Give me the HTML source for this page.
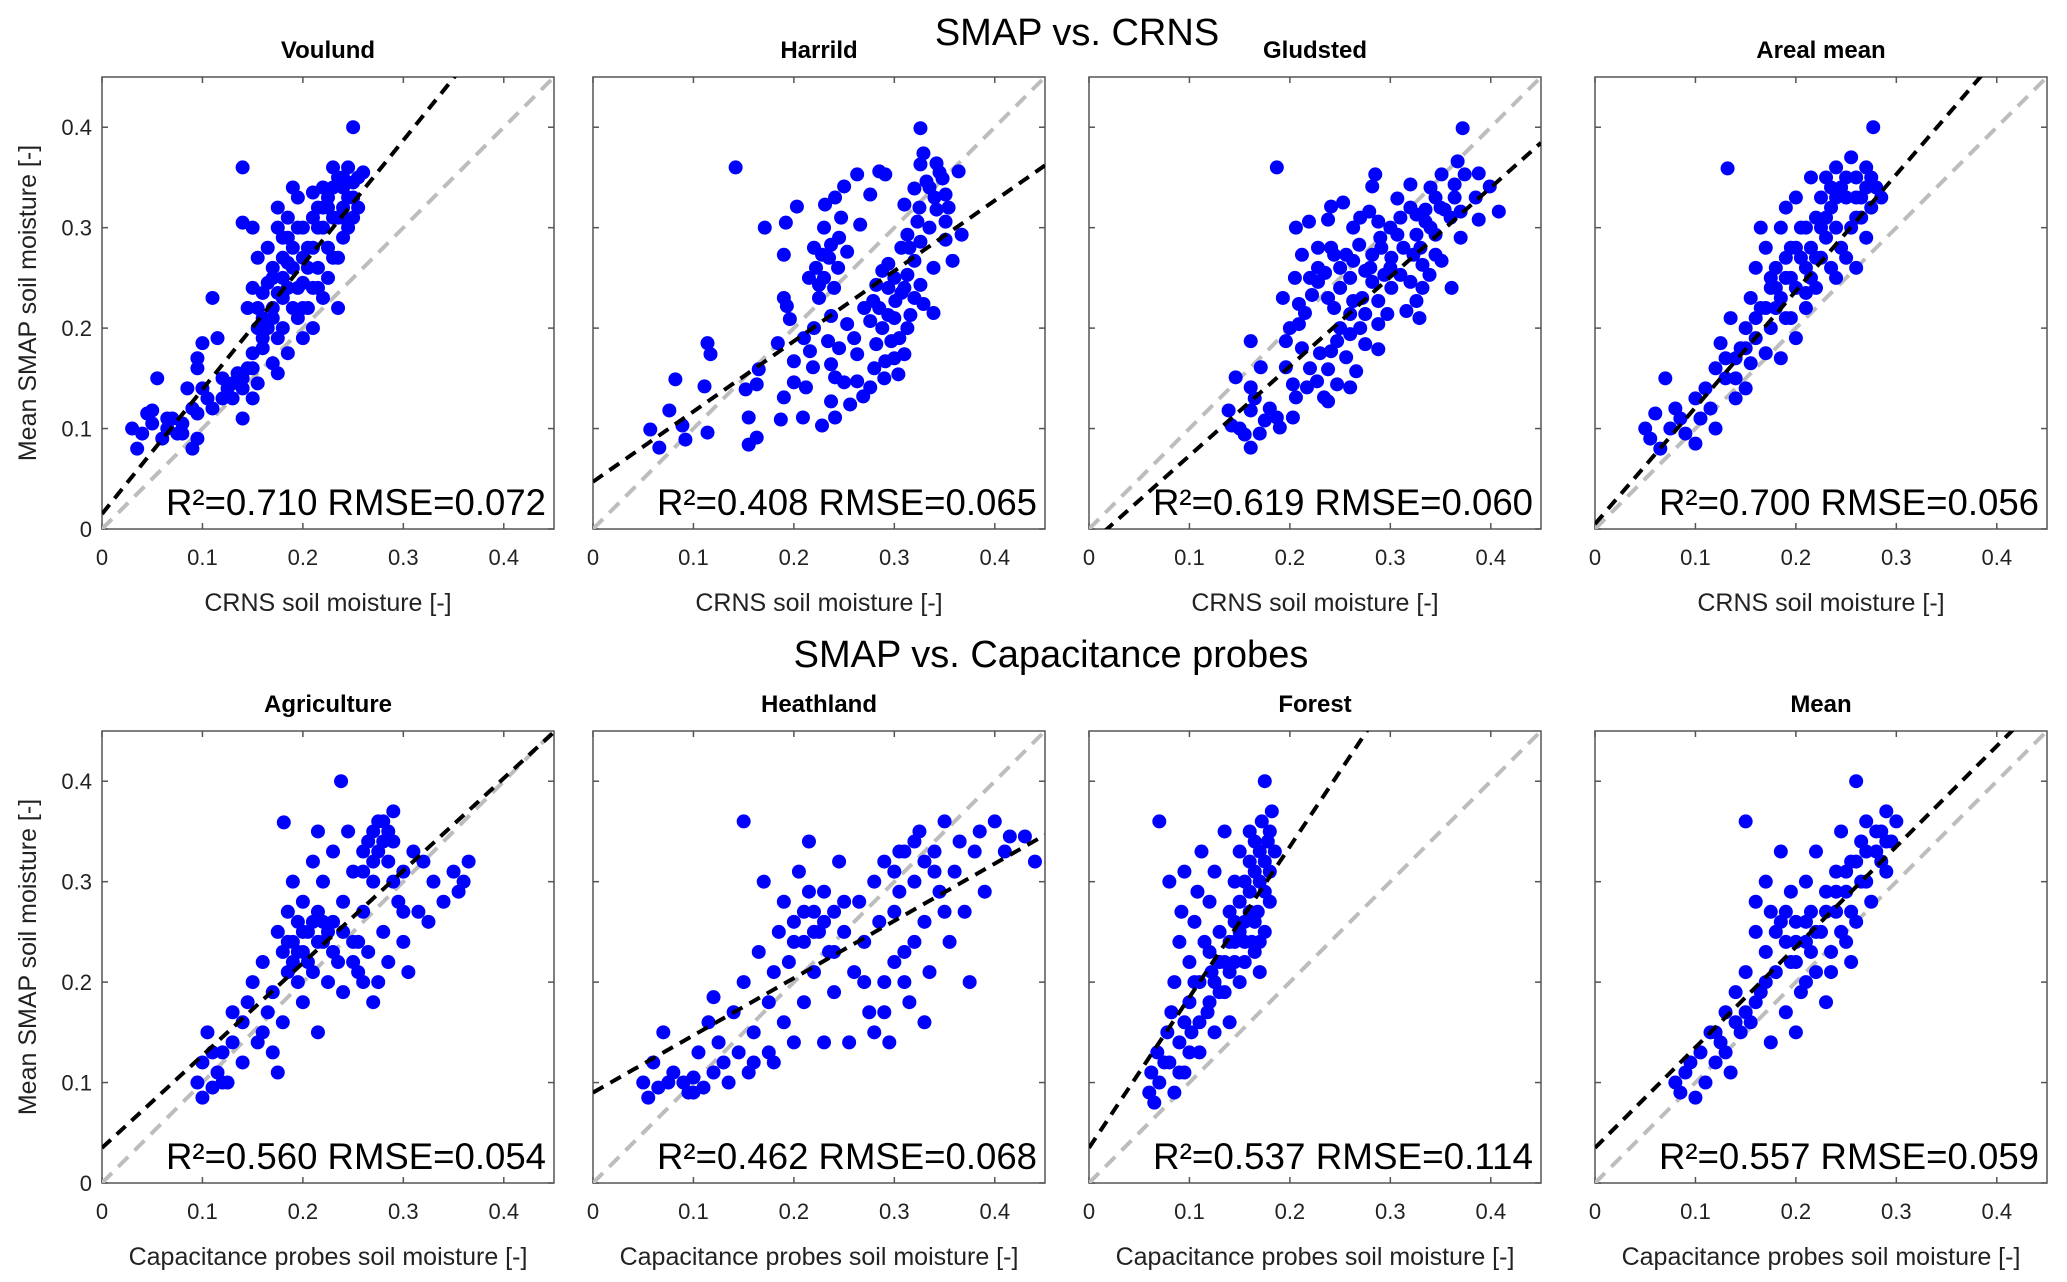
<!DOCTYPE html>
<html><head><meta charset="utf-8"><style>
body{margin:0;background:#fff}
svg{display:block;font-family:"Liberation Sans",sans-serif}
</style></head><body>
<svg id="fig" width="2067" height="1282" viewBox="0 0 2067 1282">
<text x="1077" y="45" font-size="38" text-anchor="middle">SMAP vs. CRNS</text>
<text x="1051" y="667" font-size="38" text-anchor="middle">SMAP vs. Capacitance probes</text>
</svg>
<script>
const panelTitles=["Voulund","Harrild","Gludsted","Areal mean","Agriculture","Heathland","Forest","Mean"];
const statLabels=["R²=0.710 RMSE=0.072","R²=0.408 RMSE=0.065","R²=0.619 RMSE=0.060","R²=0.700 RMSE=0.056","R²=0.560 RMSE=0.054","R²=0.462 RMSE=0.068","R²=0.537 RMSE=0.114","R²=0.557 RMSE=0.059"];
const xLabels=["CRNS soil moisture [-]","CRNS soil moisture [-]","CRNS soil moisture [-]","CRNS soil moisture [-]","Capacitance probes soil moisture [-]","Capacitance probes soil moisture [-]","Capacitance probes soil moisture [-]","Capacitance probes soil moisture [-]"];
const fitIntercepts=[0.015,0.047,-0.016,0.005,0.035,0.09,0.035,0.035];
const fitSlopes=[1.24,0.70,0.89,1.16,0.92,0.57,1.50,1.00];
const tickValues=[0,0.1,0.2,0.3,0.4];
const tickLabels=["0","0.1","0.2","0.3","0.4"];
const voulund=[[0.03,0.10],[0.035,0.08],[0.04,0.095],[0.045,0.115],[0.05,0.105],[0.055,0.15],[0.05,0.118],[0.06,0.09],[0.065,0.1],[0.07,0.11],[0.075,0.095],[0.08,0.105],[0.085,0.14],[0.09,0.12],[0.09,0.08],[0.095,0.09],[0.095,0.115],[0.1,0.14],[0.095,0.16],[0.095,0.17],[0.1,0.185],[0.105,0.13],[0.11,0.12],[0.115,0.19],[0.11,0.23],[0.12,0.15],[0.125,0.14],[0.13,0.13],[0.135,0.155],[0.14,0.11],[0.14,0.14],[0.145,0.16],[0.15,0.13],[0.14,0.36],[0.14,0.305],[0.15,0.3],[0.15,0.175],[0.155,0.2],[0.145,0.22],[0.15,0.24],[0.155,0.27],[0.16,0.21],[0.16,0.19],[0.165,0.28],[0.17,0.25],[0.17,0.22],[0.17,0.165],[0.175,0.155],[0.18,0.27],[0.175,0.3],[0.175,0.32],[0.18,0.2],[0.185,0.24],[0.185,0.29],[0.19,0.26],[0.19,0.22],[0.19,0.34],[0.185,0.31],[0.195,0.33],[0.195,0.21],[0.2,0.245],[0.2,0.19],[0.2,0.3],[0.205,0.28],[0.21,0.24],[0.21,0.2],[0.215,0.32],[0.215,0.26],[0.22,0.34],[0.22,0.3],[0.22,0.23],[0.225,0.33],[0.225,0.28],[0.23,0.36],[0.23,0.31],[0.23,0.27],[0.235,0.22],[0.235,0.35],[0.24,0.32],[0.24,0.29],[0.24,0.34],[0.245,0.36],[0.25,0.31],[0.25,0.33],[0.25,0.4],[0.255,0.35],[0.26,0.355],[0.225,0.25],[0.2,0.22],[0.16,0.235],[0.175,0.19],[0.185,0.175],[0.155,0.145],[0.21,0.31],[0.245,0.3],[0.255,0.32],[0.235,0.27],[0.17,0.26],[0.18,0.23],[0.165,0.2],[0.175,0.235],[0.185,0.265],[0.195,0.24],[0.205,0.26],[0.215,0.3],[0.225,0.32],[0.235,0.31],[0.245,0.33],[0.24,0.35],[0.23,0.34],[0.22,0.32],[0.21,0.28],[0.2,0.27],[0.19,0.28],[0.18,0.25],[0.17,0.21],[0.16,0.18],[0.15,0.16],[0.14,0.15],[0.13,0.145],[0.155,0.22],[0.165,0.245],[0.18,0.29],[0.195,0.3],[0.21,0.335],[0.24,0.31],[0.25,0.345],[0.205,0.22],[0.215,0.24],[0.065,0.11],[0.08,0.095],[0.12,0.13]];
const harrild=[[0.057,0.099],[0.066,0.081],[0.076,0.118],[0.089,0.103],[0.092,0.089],[0.082,0.149],[0.111,0.142],[0.114,0.185],[0.117,0.174],[0.114,0.096],[0.155,0.084],[0.163,0.091],[0.155,0.111],[0.152,0.139],[0.163,0.144],[0.165,0.159],[0.187,0.109],[0.19,0.131],[0.209,0.111],[0.228,0.103],[0.241,0.111],[0.142,0.36],[0.171,0.3],[0.192,0.305],[0.19,0.273],[0.203,0.321],[0.19,0.23],[0.193,0.222],[0.196,0.209],[0.184,0.185],[0.2,0.167],[0.2,0.146],[0.212,0.141],[0.219,0.161],[0.216,0.177],[0.222,0.26],[0.225,0.243],[0.228,0.273],[0.231,0.323],[0.241,0.33],[0.25,0.341],[0.263,0.353],[0.285,0.356],[0.291,0.353],[0.276,0.333],[0.266,0.303],[0.247,0.31],[0.237,0.283],[0.253,0.276],[0.244,0.26],[0.225,0.23],[0.237,0.212],[0.253,0.204],[0.234,0.187],[0.237,0.164],[0.241,0.151],[0.25,0.146],[0.263,0.147],[0.276,0.141],[0.269,0.132],[0.256,0.124],[0.237,0.127],[0.263,0.174],[0.282,0.184],[0.276,0.207],[0.279,0.227],[0.282,0.243],[0.288,0.257],[0.294,0.24],[0.301,0.227],[0.294,0.213],[0.288,0.2],[0.297,0.187],[0.291,0.167],[0.304,0.154],[0.31,0.174],[0.313,0.2],[0.316,0.213],[0.307,0.235],[0.313,0.253],[0.32,0.267],[0.326,0.243],[0.329,0.224],[0.339,0.215],[0.339,0.26],[0.358,0.267],[0.326,0.286],[0.313,0.293],[0.323,0.306],[0.31,0.323],[0.32,0.339],[0.332,0.346],[0.326,0.363],[0.342,0.364],[0.329,0.374],[0.326,0.399],[0.348,0.349],[0.351,0.333],[0.354,0.32],[0.351,0.306],[0.364,0.356],[0.367,0.293],[0.351,0.288],[0.342,0.318],[0.335,0.3],[0.307,0.28],[0.294,0.264],[0.23,0.25],[0.235,0.27],[0.24,0.24],[0.245,0.29],[0.23,0.3],[0.22,0.28],[0.215,0.25],[0.3,0.21],[0.305,0.19],[0.31,0.24],[0.32,0.23],[0.3,0.25],[0.315,0.28],[0.325,0.32],[0.335,0.34],[0.34,0.33],[0.345,0.355],[0.3,0.17],[0.29,0.15],[0.28,0.16],[0.22,0.2],[0.21,0.19],[0.245,0.18],[0.26,0.19],[0.27,0.22],[0.285,0.22]];
const gludsted=[[0.187,0.36],[0.372,0.399],[0.161,0.081],[0.142,0.103],[0.139,0.118],[0.155,0.094],[0.161,0.118],[0.175,0.108],[0.187,0.111],[0.19,0.101],[0.203,0.111],[0.206,0.131],[0.161,0.141],[0.146,0.151],[0.171,0.161],[0.161,0.187],[0.196,0.161],[0.203,0.144],[0.217,0.141],[0.227,0.147],[0.238,0.159],[0.247,0.144],[0.26,0.141],[0.238,0.127],[0.234,0.131],[0.266,0.157],[0.256,0.171],[0.241,0.177],[0.247,0.187],[0.26,0.194],[0.275,0.184],[0.288,0.179],[0.196,0.187],[0.212,0.18],[0.209,0.204],[0.193,0.23],[0.209,0.224],[0.215,0.215],[0.222,0.233],[0.228,0.246],[0.238,0.23],[0.244,0.22],[0.26,0.214],[0.263,0.227],[0.275,0.214],[0.288,0.204],[0.297,0.214],[0.288,0.227],[0.272,0.23],[0.212,0.273],[0.228,0.26],[0.244,0.273],[0.25,0.26],[0.263,0.267],[0.275,0.257],[0.282,0.246],[0.294,0.253],[0.301,0.24],[0.31,0.253],[0.32,0.246],[0.326,0.227],[0.316,0.217],[0.329,0.21],[0.332,0.24],[0.339,0.253],[0.351,0.267],[0.361,0.24],[0.345,0.273],[0.332,0.263],[0.323,0.273],[0.313,0.28],[0.301,0.27],[0.291,0.28],[0.282,0.273],[0.269,0.283],[0.256,0.273],[0.241,0.28],[0.228,0.28],[0.206,0.3],[0.219,0.306],[0.238,0.308],[0.263,0.3],[0.279,0.316],[0.288,0.306],[0.307,0.293],[0.326,0.293],[0.345,0.293],[0.37,0.29],[0.241,0.321],[0.253,0.325],[0.285,0.353],[0.282,0.341],[0.307,0.329],[0.32,0.343],[0.326,0.313],[0.335,0.318],[0.345,0.33],[0.354,0.318],[0.364,0.33],[0.364,0.343],[0.351,0.353],[0.367,0.366],[0.374,0.353],[0.388,0.354],[0.399,0.341],[0.385,0.33],[0.388,0.308],[0.408,0.316],[0.37,0.316],[0.335,0.306],[0.15,0.1],[0.17,0.095],[0.18,0.12],[0.165,0.13],[0.22,0.16],[0.23,0.175],[0.25,0.2],[0.27,0.2],[0.28,0.26],[0.29,0.29],[0.3,0.3],[0.31,0.31],[0.32,0.32],[0.33,0.28],[0.34,0.3],[0.35,0.32],[0.36,0.31],[0.3,0.26],[0.26,0.25],[0.25,0.24],[0.235,0.255],[0.22,0.25],[0.205,0.25],[0.2,0.2],[0.27,0.31],[0.34,0.34]];
const arealMean=[[0.05,0.1],[0.055,0.09],[0.06,0.115],[0.065,0.08],[0.07,0.15],[0.075,0.1],[0.08,0.12],[0.085,0.11],[0.09,0.095],[0.1,0.13],[0.1,0.085],[0.105,0.11],[0.11,0.14],[0.115,0.12],[0.12,0.1],[0.12,0.16],[0.125,0.185],[0.13,0.17],[0.135,0.21],[0.14,0.13],[0.14,0.15],[0.145,0.18],[0.15,0.14],[0.15,0.2],[0.155,0.23],[0.155,0.165],[0.16,0.19],[0.16,0.26],[0.165,0.22],[0.165,0.3],[0.17,0.28],[0.17,0.175],[0.175,0.24],[0.175,0.2],[0.18,0.26],[0.18,0.22],[0.185,0.3],[0.185,0.17],[0.19,0.25],[0.19,0.32],[0.195,0.28],[0.195,0.21],[0.2,0.24],[0.2,0.19],[0.2,0.33],[0.205,0.3],[0.21,0.26],[0.21,0.22],[0.215,0.35],[0.215,0.28],[0.22,0.31],[0.22,0.24],[0.225,0.33],[0.225,0.27],[0.23,0.29],[0.23,0.35],[0.235,0.32],[0.24,0.36],[0.24,0.3],[0.245,0.34],[0.25,0.33],[0.25,0.27],[0.255,0.37],[0.26,0.35],[0.26,0.31],[0.265,0.33],[0.27,0.36],[0.27,0.29],[0.275,0.32],[0.28,0.34],[0.285,0.33],[0.277,0.4],[0.132,0.359],[0.21,0.235],[0.19,0.21],[0.175,0.25],[0.24,0.25],[0.26,0.26],[0.185,0.23],[0.19,0.27],[0.195,0.25],[0.205,0.27],[0.215,0.25],[0.22,0.27],[0.23,0.31],[0.24,0.33],[0.25,0.35],[0.26,0.33],[0.27,0.34],[0.275,0.35],[0.265,0.31],[0.255,0.3],[0.245,0.28],[0.235,0.26],[0.2,0.28],[0.21,0.3],[0.18,0.24],[0.17,0.22],[0.16,0.21],[0.15,0.18],[0.14,0.17],[0.13,0.15],[0.225,0.3],[0.235,0.34]];
const agriculture=[[0.095,0.1],[0.1,0.085],[0.1,0.12],[0.105,0.15],[0.11,0.095],[0.115,0.11],[0.12,0.13],[0.125,0.1],[0.13,0.14],[0.13,0.17],[0.14,0.16],[0.14,0.12],[0.145,0.18],[0.15,0.2],[0.155,0.14],[0.16,0.15],[0.16,0.22],[0.165,0.17],[0.17,0.13],[0.17,0.19],[0.175,0.25],[0.175,0.11],[0.18,0.23],[0.18,0.16],[0.185,0.21],[0.185,0.27],[0.19,0.24],[0.19,0.3],[0.195,0.2],[0.195,0.26],[0.2,0.23],[0.2,0.28],[0.2,0.18],[0.205,0.25],[0.21,0.32],[0.21,0.21],[0.215,0.27],[0.215,0.15],[0.22,0.24],[0.22,0.3],[0.225,0.2],[0.23,0.26],[0.23,0.33],[0.235,0.22],[0.24,0.28],[0.24,0.19],[0.245,0.35],[0.25,0.24],[0.25,0.31],[0.255,0.21],[0.26,0.33],[0.26,0.27],[0.265,0.23],[0.27,0.35],[0.27,0.3],[0.275,0.2],[0.275,0.33],[0.28,0.36],[0.28,0.25],[0.285,0.32],[0.285,0.22],[0.29,0.34],[0.29,0.37],[0.295,0.28],[0.3,0.24],[0.3,0.31],[0.305,0.21],[0.31,0.33],[0.315,0.27],[0.32,0.32],[0.325,0.26],[0.33,0.3],[0.34,0.28],[0.35,0.31],[0.36,0.3],[0.365,0.32],[0.355,0.29],[0.181,0.359],[0.238,0.4],[0.215,0.35],[0.255,0.24],[0.27,0.18],[0.195,0.23],[0.205,0.22],[0.21,0.26],[0.215,0.24],[0.22,0.26],[0.225,0.25],[0.23,0.23],[0.2,0.25],[0.19,0.22],[0.185,0.24],[0.265,0.34],[0.275,0.36],[0.28,0.34],[0.27,0.32],[0.285,0.35],[0.26,0.31],[0.24,0.25],[0.25,0.22],[0.26,0.2],[0.29,0.3],[0.3,0.27],[0.12,0.1],[0.11,0.13]];
const heathland=[[0.05,0.1],[0.055,0.085],[0.06,0.12],[0.065,0.095],[0.07,0.15],[0.075,0.1],[0.08,0.11],[0.09,0.1],[0.095,0.09],[0.1,0.105],[0.105,0.13],[0.11,0.095],[0.115,0.16],[0.12,0.185],[0.12,0.11],[0.125,0.14],[0.13,0.12],[0.135,0.1],[0.14,0.17],[0.145,0.13],[0.15,0.36],[0.15,0.2],[0.155,0.11],[0.16,0.15],[0.165,0.23],[0.17,0.3],[0.175,0.18],[0.175,0.13],[0.18,0.21],[0.185,0.25],[0.19,0.16],[0.19,0.28],[0.195,0.22],[0.2,0.26],[0.2,0.14],[0.205,0.31],[0.21,0.24],[0.21,0.18],[0.215,0.34],[0.22,0.27],[0.22,0.21],[0.225,0.25],[0.23,0.29],[0.23,0.14],[0.235,0.23],[0.24,0.27],[0.24,0.19],[0.245,0.32],[0.25,0.25],[0.255,0.14],[0.26,0.21],[0.265,0.28],[0.27,0.24],[0.275,0.17],[0.28,0.3],[0.285,0.26],[0.29,0.32],[0.29,0.2],[0.295,0.14],[0.3,0.27],[0.305,0.33],[0.31,0.23],[0.315,0.18],[0.32,0.3],[0.325,0.35],[0.33,0.26],[0.335,0.21],[0.34,0.33],[0.345,0.29],[0.35,0.36],[0.355,0.24],[0.36,0.31],[0.365,0.34],[0.37,0.27],[0.375,0.2],[0.38,0.33],[0.385,0.35],[0.39,0.29],[0.4,0.36],[0.41,0.33],[0.415,0.345],[0.43,0.345],[0.44,0.32],[0.305,0.29],[0.27,0.2],[0.33,0.16],[0.2,0.24],[0.21,0.27],[0.22,0.25],[0.23,0.26],[0.24,0.23],[0.25,0.28],[0.215,0.29],[0.3,0.31],[0.31,0.33],[0.32,0.34],[0.33,0.32],[0.34,0.31],[0.3,0.22],[0.31,0.2],[0.29,0.17],[0.28,0.15],[0.32,0.24],[0.35,0.27],[0.18,0.12],[0.16,0.12],[0.1,0.09]];
const forest=[[0.06,0.09],[0.062,0.11],[0.065,0.08],[0.068,0.13],[0.07,0.1],[0.07,0.36],[0.075,0.12],[0.078,0.15],[0.08,0.3],[0.082,0.17],[0.085,0.09],[0.085,0.2],[0.09,0.14],[0.09,0.24],[0.092,0.27],[0.095,0.11],[0.095,0.31],[0.1,0.18],[0.1,0.22],[0.102,0.15],[0.105,0.26],[0.108,0.29],[0.11,0.13],[0.11,0.2],[0.112,0.33],[0.115,0.24],[0.118,0.17],[0.12,0.28],[0.122,0.21],[0.125,0.15],[0.125,0.31],[0.13,0.25],[0.13,0.19],[0.135,0.35],[0.135,0.22],[0.14,0.27],[0.14,0.16],[0.145,0.24],[0.145,0.3],[0.15,0.2],[0.15,0.33],[0.155,0.26],[0.155,0.22],[0.16,0.29],[0.16,0.35],[0.162,0.24],[0.165,0.31],[0.168,0.27],[0.17,0.33],[0.17,0.21],[0.172,0.36],[0.175,0.29],[0.175,0.25],[0.178,0.34],[0.18,0.31],[0.182,0.37],[0.175,0.4],[0.185,0.33],[0.165,0.23],[0.15,0.28],[0.12,0.23],[0.14,0.21],[0.16,0.32],[0.165,0.26],[0.17,0.3],[0.175,0.32],[0.18,0.28],[0.155,0.24],[0.15,0.25],[0.145,0.22],[0.14,0.24],[0.13,0.22],[0.125,0.2],[0.16,0.27],[0.17,0.24],[0.18,0.35],[0.165,0.34],[0.155,0.3],[0.1,0.13],[0.09,0.11],[0.08,0.12],[0.11,0.16],[0.12,0.18],[0.105,0.2],[0.095,0.16],[0.135,0.19],[0.145,0.26]];
const meanProbes=[[0.08,0.1],[0.085,0.09],[0.09,0.11],[0.095,0.12],[0.1,0.085],[0.105,0.13],[0.11,0.1],[0.115,0.15],[0.12,0.12],[0.125,0.14],[0.13,0.17],[0.135,0.11],[0.14,0.19],[0.145,0.15],[0.15,0.36],[0.15,0.21],[0.155,0.16],[0.16,0.25],[0.165,0.19],[0.17,0.23],[0.17,0.3],[0.175,0.27],[0.175,0.14],[0.18,0.21],[0.185,0.26],[0.185,0.33],[0.19,0.24],[0.19,0.17],[0.195,0.29],[0.2,0.22],[0.2,0.26],[0.205,0.19],[0.21,0.3],[0.21,0.24],[0.215,0.27],[0.22,0.21],[0.22,0.33],[0.225,0.25],[0.23,0.29],[0.23,0.18],[0.235,0.23],[0.24,0.31],[0.24,0.27],[0.245,0.35],[0.25,0.24],[0.25,0.29],[0.255,0.32],[0.26,0.26],[0.26,0.4],[0.265,0.34],[0.27,0.3],[0.27,0.36],[0.275,0.28],[0.28,0.33],[0.285,0.35],[0.29,0.31],[0.29,0.37],[0.295,0.34],[0.3,0.36],[0.255,0.22],[0.2,0.15],[0.16,0.28],[0.18,0.25],[0.19,0.27],[0.2,0.24],[0.21,0.26],[0.215,0.23],[0.22,0.25],[0.23,0.27],[0.24,0.29],[0.25,0.31],[0.26,0.32],[0.27,0.33],[0.28,0.35],[0.285,0.32],[0.29,0.34],[0.265,0.3],[0.255,0.27],[0.245,0.25],[0.235,0.21],[0.21,0.2],[0.195,0.22],[0.17,0.2],[0.16,0.18],[0.15,0.17],[0.14,0.16],[0.13,0.13],[0.12,0.15]];
const panelData=[voulund,harrild,gludsted,arealMean,agriculture,heathland,forest,meanProbes];

const NS="http://www.w3.org/2000/svg";
const svg=document.getElementById('fig');
const lefts=[102,593,1089,1595], tops=[77,731], W=452, H=452, MAX=0.45;
function mk(tag,attrs,parent){const e=document.createElementNS(NS,tag);for(const k in attrs)e.setAttribute(k,attrs[k]);(parent||svg).appendChild(e);return e;}
function slug(s){return s.toLowerCase().replace(/[^a-z0-9]+/g,'-');}
panelData.forEach((pts,i)=>{
  const L=lefts[i%4], T=tops[Math.floor(i/4)];
  const sx=v=>L+v/MAX*W, sy=v=>T+H-v/MAX*H;
  const g=mk('g',{});
  
  
  const cid='clip'+i;
  const cp=mk('clipPath',{id:cid},g); mk('rect',{x:L,y:T,width:W,height:H},cp);
  const frame=mk('rect',{x:L,y:T,width:W,height:H,fill:'#fff',stroke:'#555','stroke-width':1.5},g);
  
  
  tickValues.forEach((v,k)=>{
    mk('line',{x1:sx(v),x2:sx(v),y1:T+H,y2:T+H-6,stroke:'#555','stroke-width':1.5},g);
    mk('line',{x1:sx(v),x2:sx(v),y1:T,y2:T+6,stroke:'#555','stroke-width':1.5},g);
    mk('line',{x1:L,x2:L+6,y1:sy(v),y2:sy(v),stroke:'#555','stroke-width':1.5},g);
    mk('line',{x1:L+W,x2:L+W-6,y1:sy(v),y2:sy(v),stroke:'#555','stroke-width':1.5},g);
    const xt=mk('text',{x:sx(v),y:T+H+36,'font-size':22,'text-anchor':'middle',fill:'#222'},g);
    xt.textContent=tickLabels[k];
    
    
    if(i%4===0){
      const yt=mk('text',{x:L-10,y:sy(v)+8,'font-size':22,'text-anchor':'end',fill:'#222'},g);
      yt.textContent=tickLabels[k];
      
      
    }
  });
  const cg=mk('g',{'clip-path':'url(#'+cid+')'},g);
  const one=mk('line',{x1:sx(0),y1:sy(0),x2:sx(MAX),y2:sy(MAX),stroke:'#bdbdbd','stroke-width':4,'stroke-dasharray':'14 9'},cg);
  
  
  pts.forEach(p=>{
    const c=mk('circle',{cx:sx(p[0]),cy:sy(p[1]),r:7,fill:'#0000ff'},cg);
    
    
  });
  const a=fitIntercepts[i], b=fitSlopes[i];
  const fit=mk('line',{x1:sx(0),y1:sy(a),x2:sx(MAX),y2:sy(a+b*MAX),stroke:'#000','stroke-width':4,'stroke-dasharray':'12 8'},cg);
  
  
  const st=mk('text',{x:L+W-8,y:T+H-14,'font-size':37,'text-anchor':'end',fill:'#000',textLength:380,lengthAdjust:'spacingAndGlyphs'},g);
  st.textContent=statLabels[i];
  
  
  const tt=mk('text',{x:L+W/2,y:T-19,'font-size':24,'font-weight':'bold','text-anchor':'middle'},g);
  tt.textContent=panelTitles[i];
  
  
  const xl=mk('text',{x:L+W/2,y:T+H+82,'font-size':25,'text-anchor':'middle',fill:'#222'},g);
  xl.textContent=xLabels[i];
  
  
  if(i%4===0){
    const cy=T+H/2;
    const yl=mk('text',{x:36,y:cy,'font-size':25,'text-anchor':'middle',fill:'#222',transform:'rotate(-90 36 '+cy+')'},g);
    yl.textContent='Mean SMAP soil moisture [-]';
    
    
  }
});
</script>
</body></html>
